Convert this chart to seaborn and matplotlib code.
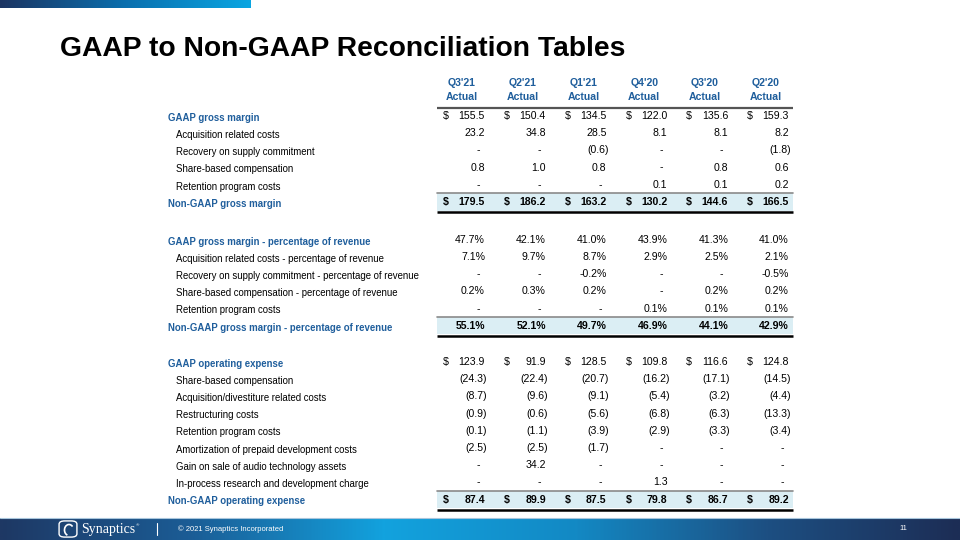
import matplotlib
matplotlib.use("Agg")
import matplotlib.pyplot as plt
import numpy as np
import seaborn as sns
from matplotlib.patches import Rectangle, FancyBboxPatch, Arc

# ---- data ----
quarters = ["Q3'21", "Q2'21", "Q1'21", "Q4'20", "Q3'20", "Q2'20"]

gaap_gross_margin = [155.5, 150.4, 134.5, 122.0, 135.6, 159.3]
gm_acquisition = [23.2, 34.8, 28.5, 8.1, 8.1, 8.2]
gm_supply_recovery = [None, None, -0.6, None, None, -1.8]
gm_share_based = [0.8, 1.0, 0.8, None, 0.8, 0.6]
gm_retention = [None, None, None, 0.1, 0.1, 0.2]
non_gaap_gross_margin = [179.5, 186.2, 163.2, 130.2, 144.6, 166.5]

gaap_gm_pct = [47.7, 42.1, 41.0, 43.9, 41.3, 41.0]
acquisition_pct = [7.1, 9.7, 8.7, 2.9, 2.5, 2.1]
supply_recovery_pct = [None, None, -0.2, None, None, -0.5]
share_based_pct = [0.2, 0.3, 0.2, None, 0.2, 0.2]
retention_pct = [None, None, None, 0.1, 0.1, 0.1]
non_gaap_gm_pct = [55.1, 52.1, 49.7, 46.9, 44.1, 42.9]

gaap_opex = [123.9, 91.9, 128.5, 109.8, 116.6, 124.8]
opex_share_based = [-24.3, -22.4, -20.7, -16.2, -17.1, -14.5]
opex_acq_divest = [-8.7, -9.6, -9.1, -5.4, -3.2, -4.4]
opex_restructuring = [-0.9, -0.6, -5.6, -6.8, -6.3, -13.3]
opex_retention = [-0.1, -1.1, -3.9, -2.9, -3.3, -3.4]
opex_prepaid_amort = [-2.5, -2.5, -1.7, None, None, None]
opex_audio_gain = [None, 34.2, None, None, None, None]
opex_ipr_d = [None, None, None, 1.3, None, None]
non_gaap_opex = [87.4, 89.9, 87.5, 79.8, 86.7, 89.2]

# (label, values, kind, format)
sections = [
    [
        ("GAAP gross margin", gaap_gross_margin, "head", "money"),
        ("Acquisition related costs", gm_acquisition, "item", "money"),
        ("Recovery on supply commitment", gm_supply_recovery, "item", "money"),
        ("Share-based compensation", gm_share_based, "item", "money"),
        ("Retention program costs", gm_retention, "item", "money"),
        ("Non-GAAP gross margin", non_gaap_gross_margin, "total", "money"),
    ],
    [
        ("GAAP gross margin - percentage of revenue", gaap_gm_pct, "head", "pct"),
        ("Acquisition related costs - percentage of revenue", acquisition_pct, "item", "pct"),
        ("Recovery on supply commitment - percentage of revenue", supply_recovery_pct, "item", "pct"),
        ("Share-based compensation - percentage of revenue", share_based_pct, "item", "pct"),
        ("Retention program costs", retention_pct, "item", "pct"),
        ("Non-GAAP gross margin - percentage of revenue", non_gaap_gm_pct, "total", "pct"),
    ],
    [
        ("GAAP operating expense", gaap_opex, "head", "money"),
        ("Share-based compensation", opex_share_based, "item", "money"),
        ("Acquisition/divestiture related costs", opex_acq_divest, "item", "money"),
        ("Restructuring costs", opex_restructuring, "item", "money"),
        ("Retention program costs", opex_retention, "item", "money"),
        ("Amortization of prepaid development costs", opex_prepaid_amort, "item", "money"),
        ("Gain on sale of audio technology assets", opex_audio_gain, "item", "money"),
        ("In-process research and development charge", opex_ipr_d, "item", "money"),
        ("Non-GAAP operating expense", non_gaap_opex, "total", "money"),
    ],
]
section_starts = [0, 7.2, 14.3]

# ---- style ----
sns.set_theme(style="white")
NARROW = ["Liberation Sans Narrow", "Liberation Sans", "DejaVu Sans"]
plt.rcParams["font.family"] = NARROW
BLUE = "#1f5e9c"
BAND = "#dbeef4"

W, H = 960, 540
COL0_PX, COL_PX = 485, 60.8   # right edge of first value column, column pitch
ROW0_PX, ROW_PX = 116, 17.2   # first row centre, row pitch


def fmt(v, kind):
    if v is None:
        return "-"
    if kind == "pct":
        return f"{v:.1f}%"
    return f"({-v:.1f})" if v < 0 else f"{v:.1f}"


fig = plt.figure(figsize=(9.6, 5.4), dpi=100)
fig.patch.set_facecolor("white")

ax = fig.add_axes([0, 0, 1, 1])
ax.set_xlim((0 - COL0_PX) / COL_PX, (W - COL0_PX) / COL_PX)
ax.set_ylim((H - ROW0_PX) / ROW_PX, (0 - ROW0_PX) / ROW_PX)
ax.axis("off")

label_x = (168 - COL0_PX) / COL_PX
item_x = (176 - COL0_PX) / COL_PX
band_x0 = (437 - COL0_PX) / COL_PX
band_x1 = (793 - COL0_PX) / COL_PX
dollar_dx = -0.69
head_dx = -0.38
fs_val = 7.6
fs_lab = 6.9

# header
for i, q in enumerate(quarters):
    ax.text(i + head_dx, -1.92, q, ha="center", va="center", fontsize=fs_val,
            fontweight="bold", color=BLUE)
    ax.text(i + head_dx, -1.10, "Actual", ha="center", va="center", fontsize=fs_val,
            fontweight="bold", color=BLUE)
ax.plot([band_x0, band_x1], [-0.47, -0.47], color="#555555", lw=1.6,
        solid_capstyle="butt")

for start, rows in zip(section_starts, sections):
    for r, (label, values, kind, form) in enumerate(rows):
        y = start + r
        if kind == "total":
            ax.add_patch(Rectangle((band_x0, y - 0.5), band_x1 - band_x0, 1.0,
                                   facecolor=BAND, edgecolor="none", zorder=0))
            ax.plot([band_x0, band_x1], [y - 0.5, y - 0.5], color="#8a8a8a", lw=1.2)
            ax.plot([band_x0, band_x1], [y + 0.6, y + 0.6], color="black", lw=1.8,
                    solid_capstyle="butt")
        if kind == "item":
            ax.text(item_x, y + 0.1, label, ha="left", va="center", fontsize=fs_lab,
                    color="black")
        else:
            ax.text(label_x, y + 0.1, label, ha="left", va="center", fontsize=fs_lab,
                    fontweight="bold", color=BLUE)
        weight = "bold" if kind == "total" else "normal"
        for i, v in enumerate(values):
            s = fmt(v, form)
            dx = 0.0
            if v is None:
                dx = -0.08
            elif v < 0 and form == "money":
                dx = 0.035
            ax.text(i + dx, y, s, ha="right", va="center", fontsize=fs_val,
                    fontweight=weight, color="black")
            if form == "money" and kind in ("head", "total"):
                ax.text(i + dollar_dx, y, "$", ha="left", va="center", fontsize=fs_val,
                        fontweight=weight, color="black")

# title
fig.text(60 / W, 1 - 56 / H, "GAAP to Non-GAAP Reconciliation Tables",
         fontsize=20.3, fontweight="bold", color="black", ha="left", va="baseline")

# top gradient bar
top = fig.add_axes([0, 1 - 8 / H, 250 / W, 8 / H])
top_cols = sns.blend_palette(["#1c3562", "#0a6fae", "#0aa6e2"], 256)
top.imshow(np.array(top_cols)[None, :, :], aspect="auto")
top.axis("off")

# footer gradient bar
foot = fig.add_axes([0, 0, 1, 22 / H])
foot_cols = sns.blend_palette(["#1e3864", "#1b5d96", "#12a2de", "#1389c4",
                               "#1d4f82", "#1c2d55"], 512)
foot.imshow(np.array(foot_cols)[None, :, :], aspect="auto")
foot.axis("off")
fig.add_artist(plt.Line2D([0, 1], [22 / H, 22 / H], color="#a9c6dc", lw=0.8))

# logo
fig.add_artist(FancyBboxPatch((61 / W, 4 / H), 14 / W, 14 / H,
                              boxstyle="round,pad=0.002,rounding_size=0.006",
                              transform=fig.transFigure, facecolor="none",
                              edgecolor="white", lw=1.0))
fig.add_artist(Arc((69 / W, 10 / H), 9 / W, 11 / H, theta1=60, theta2=260,
                   transform=fig.transFigure, color="white", lw=1.2))
fig.text(81 / W, 11 / H, "Synaptics", fontsize=10, color="white",
         family=["Liberation Serif", "DejaVu Serif"], ha="left", va="center")
fig.text(136 / W, 15 / H, "®", fontsize=3.2, color="white", ha="left", va="center")
fig.add_artist(plt.Line2D([157 / W, 157 / W], [5 / H, 17 / H], color="white", lw=0.8))
fig.text(178 / W, 11 / H, "© 2021 Synaptics Incorporated", fontsize=5.5,
         color="white", family=["Liberation Sans", "DejaVu Sans"], ha="left",
         va="center")
fig.text(903 / W, 11 / H, "11", fontsize=5.5, color="white", ha="center",
         va="center", family=["Liberation Sans", "DejaVu Sans"])

fig.savefig("out.png", dpi=100)
